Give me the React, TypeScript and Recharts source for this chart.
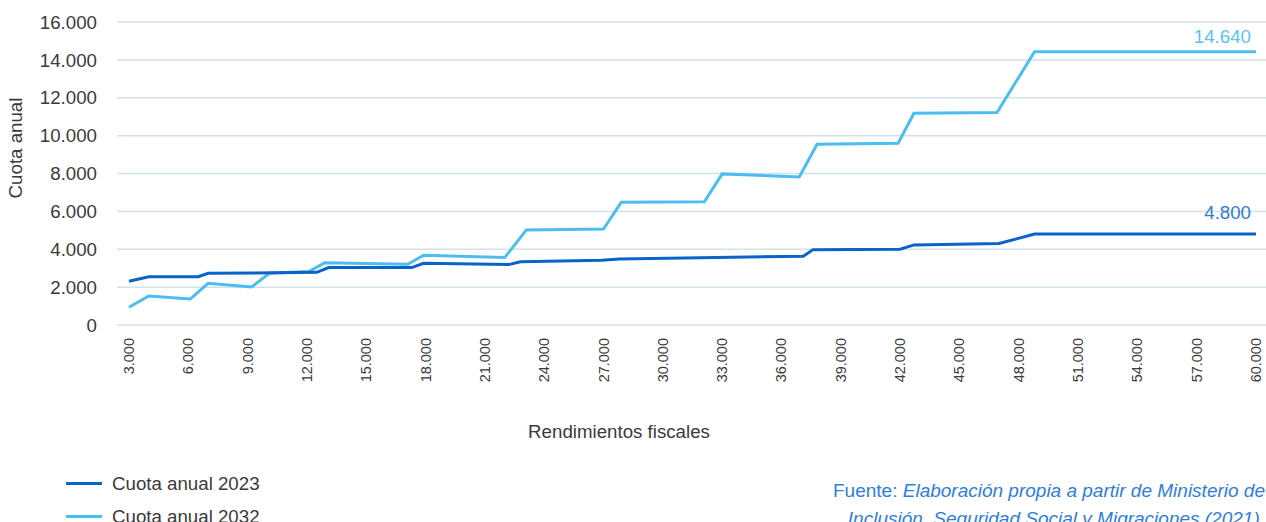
import React from 'react';
import { LineChart, Line, XAxis, YAxis, CartesianGrid, Legend } from 'recharts';

const RENTA_2023 = [3000, 4000, 6500, 7000, 12500, 13100, 17300, 17900, 22200, 22800, 26900, 27800, 37100, 37600, 42000, 42700, 47000, 48800, 60000];
const CUOTA_2023 = [2310, 2550, 2550, 2730, 2780, 3030, 3030, 3260, 3190, 3340, 3420, 3490, 3630, 3980, 4000, 4230, 4300, 4800, 4800];

const RENTA_2032 = [3000, 4000, 6100, 7000, 9200, 10100, 12100, 12900, 17100, 17900, 22000, 23100, 27000, 27900, 32100, 33000, 36900, 37800, 41900, 42700, 46900, 48800, 60000];
const CUOTA_2032 = [940, 1530, 1370, 2200, 2010, 2730, 2820, 3290, 3210, 3680, 3560, 5020, 5070, 6480, 6510, 7980, 7820, 9540, 9600, 11180, 11220, 14430, 14430];

const SERIES_NAMES = ['Cuota anual 2023', 'Cuota anual 2032'];
const END_LABELS = ['4.800', '14.640'];

const X_TICKS = [3000, 6000, 9000, 12000, 15000, 18000, 21000, 24000, 27000, 30000, 33000, 36000, 39000, 42000, 45000, 48000, 51000, 54000, 57000, 60000];
const Y_TICKS = [0, 2000, 4000, 6000, 8000, 10000, 12000, 14000, 16000];

const X_TITLE = 'Rendimientos fiscales';
const Y_TITLE = 'Cuota anual';

const DARK = '#0A63C9';
const LIGHT = '#4CBDF0';
const FONT = '"Liberation Sans", Arial, sans-serif';
const TEXT = '#3a3a3a';
const FS = 18.7;

const data2023 = RENTA_2023.map((x, i) => ({ x, y: CUOTA_2023[i] }));
const data2032 = RENTA_2032.map((x, i) => ({ x, y: CUOTA_2032[i] }));

const fmt = (v: number) => String(v).replace(/\B(?=(\d{3})+(?!\d))/g, '.');

const XTick = ({ x, y, payload }: any) => (
  <text
    x={x}
    y={y}
    transform={`rotate(-90, ${x}, ${y})`}
    textAnchor="end"
    dominantBaseline="central"
    fontSize={14.5}
    fill={TEXT}
    fontFamily={FONT}
  >
    {fmt(payload.value)}
  </text>
);

const endLabel = (count: number, text: string, color: string, dy: number) => (props: any) => {
  if (props.index !== count - 1) return null;
  return (
    <text x={props.x - 5} y={props.y + dy} textAnchor="end" fontSize={FS} fill={color} fontFamily={FONT}>
      {text}
    </text>
  );
};

const LegendContent = ({ payload }: any) => (
  <div style={{ fontFamily: FONT, fontSize: FS, color: TEXT }}>
    {(payload || []).map((p: any) => (
      <div key={p.value} style={{ display: 'flex', alignItems: 'center', height: 33 }}>
        <span style={{ display: 'inline-block', width: 36, height: 3, background: p.color, marginRight: 10 }} />
        {p.value}
      </div>
    ))}
  </div>
);

export default function App() {
  return (
    <div style={{ position: 'relative', width: 1266, height: 522, overflow: 'hidden', background: '#fff' }}>
      <style>{'body{margin:0}'}</style>
      <LineChart width={1266} height={522} margin={{ top: 22, right: 0, bottom: 0, left: 0 }}>
        <CartesianGrid vertical={false} stroke="#D3E1E8" strokeWidth={1.5} />
        <XAxis
          dataKey="x"
          type="number"
          domain={[3000, 60000]}
          ticks={X_TICKS}
          interval={0}
          padding={{ left: 12, right: 10 }}
          height={197}
          axisLine={false}
          tickLine={false}
          tickSize={0}
          tickMargin={13}
          tick={<XTick />}
          label={{
            value: X_TITLE,
            content: () => (
              <text x={619} y={438} textAnchor="middle" fontSize={FS} fill={TEXT} fontFamily={FONT}>
                {X_TITLE}
              </text>
            ),
          }}
        />
        <YAxis
          type="number"
          domain={[0, 16000]}
          ticks={Y_TICKS}
          width={117}
          axisLine={false}
          tickLine={false}
          tickSize={0}
          tickMargin={20}
          tickFormatter={fmt}
          tick={{ fontSize: FS, fill: TEXT, fontFamily: FONT }}
          label={{
            value: Y_TITLE,
            content: () => (
              <text
                x={22}
                y={148}
                transform="rotate(-90, 22, 148)"
                textAnchor="middle"
                fontSize={FS}
                fill={TEXT}
                fontFamily={FONT}
              >
                {Y_TITLE}
              </text>
            ),
          }}
        />
        <Line
          data={data2032}
          dataKey="y"
          name={SERIES_NAMES[1]}
          type="linear"
          stroke={LIGHT}
          strokeWidth={3}
          dot={false}
          activeDot={false}
          isAnimationActive={false}
          label={endLabel(data2032.length, END_LABELS[1], '#5CC2F2', -8.5)}
        />
        <Line
          data={data2023}
          dataKey="y"
          name={SERIES_NAMES[0]}
          type="linear"
          stroke={DARK}
          strokeWidth={3}
          dot={false}
          activeDot={false}
          isAnimationActive={false}
          label={endLabel(data2023.length, END_LABELS[0], '#2F7CD5', -15)}
        />
        <Legend
          layout="vertical"
          align="center"
          verticalAlign="middle"
          itemSorter="value"
          content={<LegendContent />}
          wrapperStyle={{ position: 'absolute', left: 66, top: 467, width: 300, height: 66 }}
        />
      </LineChart>
      <div
        style={{
          position: 'absolute',
          right: 1,
          top: 477,
          textAlign: 'right',
          fontFamily: FONT,
          fontSize: 19,
          lineHeight: '28px',
          color: '#2F7ED8',
          whiteSpace: 'nowrap',
        }}
      >
        <div>
          Fuente: <i>Elaboración propia a partir de Ministerio de</i>
        </div>
        <div>
          <i>Inclusión, Seguridad Social y Migraciones (2021).</i>
        </div>
      </div>
    </div>
  );
}
